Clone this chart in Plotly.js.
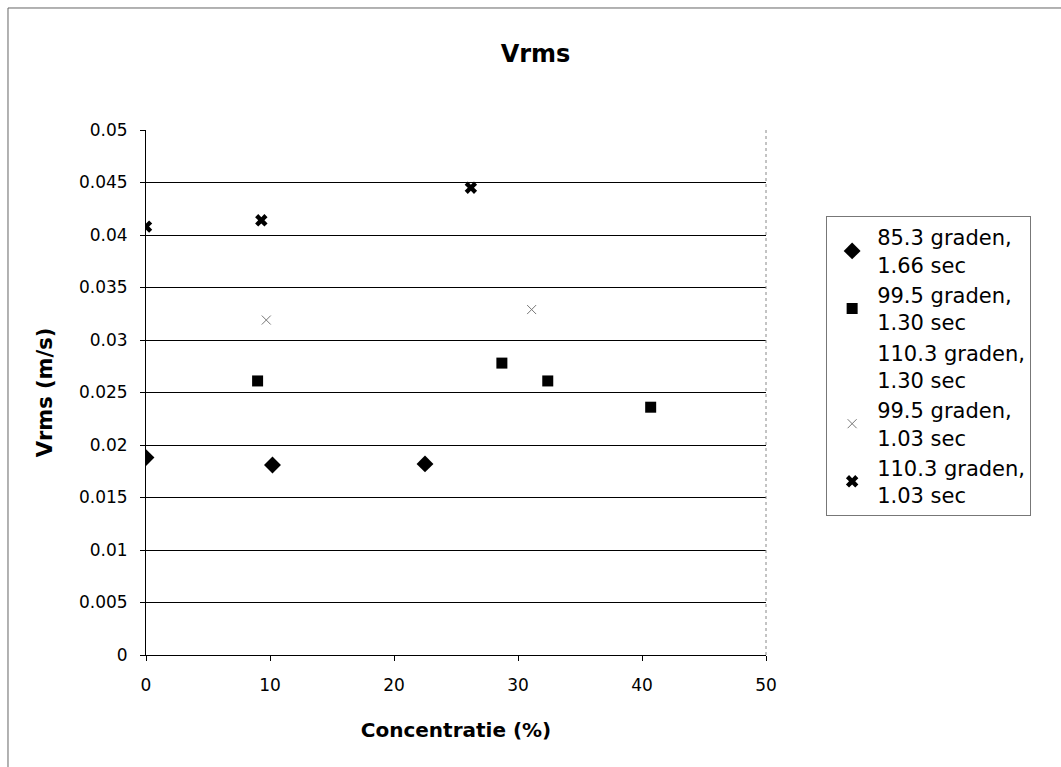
<!DOCTYPE html>
<html>
<head>
<meta charset="utf-8">
<script src="https://cdn.plot.ly/plotly-3.0.1.min.js"></script>
<style>html,body{margin:0;padding:0;background:#fff;}#chart{width:1061px;height:767px;}</style>
</head>
<body>
<div id="chart"></div>
<script>
// Series names
const seriesNames = [
  "85.3 graden,<br>1.66 sec",
  "99.5 graden,<br>1.30 sec",
  "110.3 graden,<br>1.30 sec",
  "99.5 graden,<br>1.03 sec",
  "110.3 graden,<br>1.03 sec"
];
// Concentratie (%) and Vrms (m/s) per series
const x_85_166 = [0, 10.2, 22.5];
const y_85_166 = [0.0188, 0.0181, 0.0182];
const x_995_130 = [9.0, 28.7, 32.4, 40.7];
const y_995_130 = [0.0261, 0.0278, 0.0261, 0.0236];
const x_1103_130 = [null];
const y_1103_130 = [null];
const x_995_103 = [9.7, 31.1];
const y_995_103 = [0.0319, 0.0329];
const x_1103_103 = [0, 9.3, 26.2];
const y_1103_103 = [0.0408, 0.0414, 0.0445];

const yTickVals = [0, 0.005, 0.01, 0.015, 0.02, 0.025, 0.03, 0.035, 0.04, 0.045, 0.05];
const yTickText = ["0", "0.005", "0.01", "0.015", "0.02", "0.025", "0.03", "0.035", "0.04", "0.045", "0.05"];
const xTickVals = [0, 10, 20, 30, 40, 50];
const xTickText = ["0", "10", "20", "30", "40", "50"];

const FONT = "DejaVu Sans, Arial, sans-serif";

const traces = [
  {x: x_85_166, y: y_85_166, name: seriesNames[0], type: "scatter", mode: "markers",
   marker: {symbol: "diamond", size: 13, color: "#000"}},
  {x: x_995_130, y: y_995_130, name: seriesNames[1], type: "scatter", mode: "markers",
   marker: {symbol: "square", size: 11, color: "#000"}},
  {x: x_1103_130, y: y_1103_130, name: seriesNames[2], type: "scatter", mode: "markers",
   marker: {symbol: "circle", size: 8, color: "rgba(0,0,0,0)"}},
  {x: x_995_103, y: y_995_103, name: seriesNames[3], type: "scatter", mode: "markers",
   marker: {symbol: "x-thin-open", size: 9, color: "#777", line: {width: 1, color: "#777"}}},
  {x: x_1103_103, y: y_1103_103, name: seriesNames[4], type: "scatter", mode: "markers",
   marker: {symbol: "x", size: 11, color: "#000"}}
];

const layout = {
  width: 1061, height: 767,
  margin: {l: 146, r: 295, t: 130, b: 112},
  paper_bgcolor: "#fff", plot_bgcolor: "#fff",
  font: {family: FONT, color: "#000", size: 17},
  title: {text: "<b>Vrms</b>", font: {family: FONT, size: 24, color: "#000"},
          x: 0.5047, xref: "container", xanchor: "center",
          y: 0.93, yref: "container", yanchor: "middle"},
  xaxis: {
    range: [0, 50], tickvals: xTickVals, ticktext: xTickText,
    showgrid: false, zeroline: false, showline: true, linecolor: "#000", linewidth: 1,
    ticks: "outside", ticklen: 5, tickcolor: "#000",
    tickfont: {family: FONT, size: 17, color: "#000"},
    ticklabelstandoff: 10,
    title: {text: "<b>Concentratie (%)</b>", font: {family: FONT, size: 20, color: "#000"}, standoff: 28}
  },
  yaxis: {
    range: [0, 0.05], tickvals: yTickVals, ticktext: yTickText,
    showgrid: true, gridcolor: "#000", gridwidth: 1,
    zeroline: false, showline: true, linecolor: "#000", linewidth: 1,
    ticks: "outside", ticklen: 5, tickcolor: "#000",
    tickfont: {family: FONT, size: 17, color: "#000"},
    ticklabelstandoff: 9,
    title: {text: "<b>Vrms (m/s)</b>", font: {family: FONT, size: 21, color: "#000"}, standoff: 20}
  },
  showlegend: true,
  legend: {
    x: 1.097, xanchor: "left", y: 0.836, yanchor: "top",
    bgcolor: "#fff", bordercolor: "#777", borderwidth: 1,
    font: {family: FONT, size: 21, color: "#000"},
    itemwidth: 40, tracegroupgap: 0,
    entrywidth: 250, entrywidthmode: "pixels"
  },
  shapes: [
    // right border of plot area (dotted grey)
    {type: "line", xref: "paper", yref: "paper", x0: 1, x1: 1, y0: 0, y1: 1,
     line: {color: "#888", width: 1, dash: "dot"}},
    // outer chart border
    {type: "rect", xref: "paper", yref: "paper", x0: -0.2226, x1: 1.6, y0: -0.25, y1: 1.2324,
     line: {color: "#666", width: 1}, fillcolor: "rgba(0,0,0,0)", layer: "below"}
  ]
};

Plotly.newPlot("chart", traces, layout, {displayModeBar: false, staticPlot: true});
</script>
</body>
</html>
